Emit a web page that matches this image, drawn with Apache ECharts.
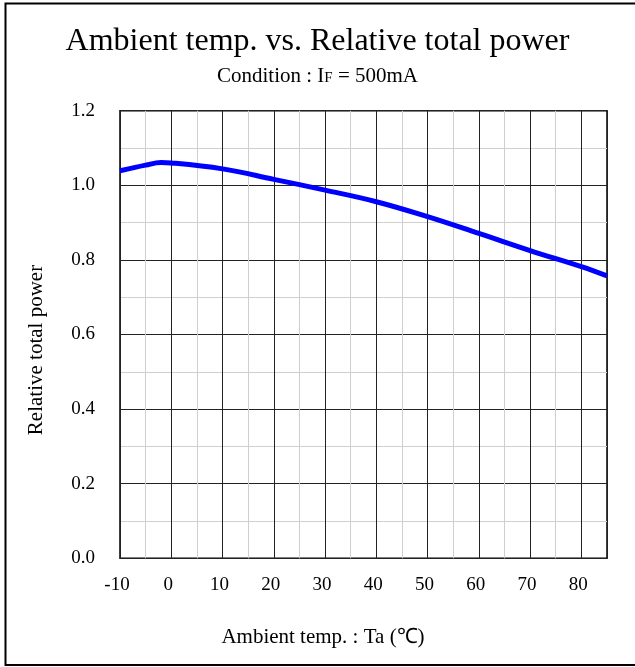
<!DOCTYPE html>
<html>
<head>
<meta charset="utf-8">
<script src="https://cdn.jsdelivr.net/npm/echarts@6/dist/echarts.min.js"></script>
<style>
html,body{margin:0;padding:0;background:#fff;}
#chart{width:635px;height:667px;}
</style>
</head>
<body>
<div id="chart"></div>
<script>
const titleText = 'Ambient temp. vs. Relative total power';
const xAxisName = 'Ambient temp. : Ta (℃)';
const yAxisName = 'Relative total power';
const temps = [-10, -5, -2, 0, 10, 20, 30, 40, 50, 60, 70, 80, 85];
const power = [1.039, 1.054, 1.061, 1.06, 1.044, 1.016, 0.987, 0.956, 0.916, 0.871, 0.825, 0.782, 0.757];
const xMin = -10, xMax = 85, xStep = 10;
const yMin = 0, yMax = 1.2, yStep = 0.2;

const FONT = '"Liberation Serif", "Times New Roman", serif';
const chart = echarts.init(document.getElementById('chart'));
chart.setOption({
  backgroundColor: '#fff',
  animation: false,
  title: [{
    text: titleText,
    left: 'center',
    top: 21,
    textStyle: {fontFamily: FONT, fontSize: 32, fontWeight: 'normal', color: '#000'}
  }, {
    text: 'Condition : I{s|F} = 500mA',
    left: 'center',
    top: 61,
    textStyle: {fontFamily: FONT, fontSize: 21, fontWeight: 'normal', color: '#000',
      rich: {s: {fontFamily: FONT, fontSize: 15, color: '#000', padding:[3,0,0,0]}}}
  }],
  grid: {left: 120, right: 28, top: 110.7, bottom: 108.7, show: true, borderColor: '#000', borderWidth: 1.5, backgroundColor: 'transparent'},
  xAxis: {
    type: 'value', min: xMin, max: xMax, interval: xStep,
    axisLine: {show: false}, axisTick: {show: false},
    axisLabel: {fontFamily: FONT, fontSize: 19, color: '#000', margin: 17,
      padding: [0, 6, 0, 0], showMaxLabel: false},
    splitLine: {show: true, lineStyle: {color: '#222', width: 1}},
    minorTick: {show: false, splitNumber: 2},
    minorSplitLine: {show: true, lineStyle: {color: '#cfcfcf', width: 1}}
  },
  yAxis: {
    type: 'value', min: yMin, max: yMax, interval: yStep,
    axisLine: {show: false}, axisTick: {show: false},
    axisLabel: {fontFamily: FONT, fontSize: 19, color: '#000', margin: 25,
      formatter: v => v.toFixed(1)},
    splitLine: {show: true, lineStyle: {color: '#222', width: 1}},
    minorTick: {show: false, splitNumber: 2},
    minorSplitLine: {show: true, lineStyle: {color: '#cfcfcf', width: 1}}
  },
  series: [{
    type: 'line', smooth: 0.4, symbol: 'none',
    data: temps.map((t, i) => [t, power[i]]),
    lineStyle: {color: '#0000ff', width: 5},
    itemStyle: {color: '#0000ff'}
  }],
  graphic: [
    {type: 'rect', shape: {x: 5.5, y: 3.5, width: 640, height: 661.5},
     style: {fill: 'none', stroke: '#000', lineWidth: 2}, silent: true},
    {type: 'text', x: 323, y: 637,
     style: {text: xAxisName, font: '21px ' + FONT, fill: '#000', align: 'center', verticalAlign: 'middle'}},
    {type: 'text', x: 36, y: 350, rotation: Math.PI / 2,
     style: {text: yAxisName, font: '21px ' + FONT, fill: '#000', align: 'center', verticalAlign: 'middle'}}
  ]
});
</script>
</body>
</html>
